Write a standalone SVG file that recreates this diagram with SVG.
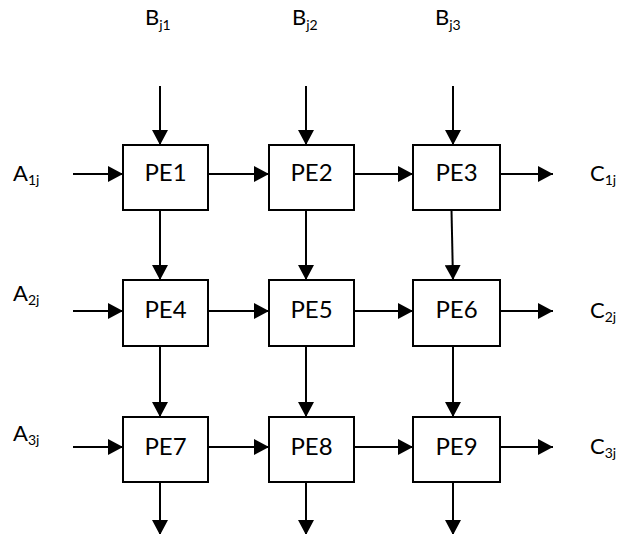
<svg xmlns="http://www.w3.org/2000/svg" width="623" height="534" viewBox="0 0 623 534">
<style>
.box{fill:#fff;stroke:#000;stroke-width:2}
.lbl{font-family:Lato,"Liberation Sans",sans-serif;font-size:24px;fill:#000;text-anchor:middle}
.io{font-family:Lato,"Liberation Sans",sans-serif;font-size:22px;fill:#000}
.sub{font-size:14px}
.c{stroke:#000;stroke-width:2;fill:none;marker-end:url(#ah)}
</style>
<defs>
<marker id="ah" markerUnits="userSpaceOnUse" markerWidth="16" markerHeight="16" refX="15" refY="8" orient="auto" viewBox="0 0 16 16">
<path d="M0,0 L15,8 L0,16 Z" fill="#000"/>
</marker>
</defs>
<g id="labels">
<text class="io" x="145" y="25">B<tspan class="sub" dy="5">j1</tspan></text>
<text class="io" x="292" y="25">B<tspan class="sub" dy="5">j2</tspan></text>
<text class="io" x="435" y="25">B<tspan class="sub" dy="5">j3</tspan></text>
<text class="io" x="13" y="181">A<tspan class="sub" dy="4">1j</tspan></text>
<text class="io" x="13" y="301">A<tspan class="sub" dy="4">2j</tspan></text>
<text class="io" x="13" y="441">A<tspan class="sub" dy="4">3j</tspan></text>
<text class="io" x="590" y="181">C<tspan class="sub" dy="4">1j</tspan></text>
<text class="io" x="590" y="318">C<tspan class="sub" dy="4">2j</tspan></text>
<text class="io" x="590" y="454">C<tspan class="sub" dy="4">3j</tspan></text>
</g>
<g id="connectors">
<line class="c" x1="160" y1="86" x2="160" y2="145"/>
<line class="c" x1="306" y1="86" x2="306" y2="145"/>
<line class="c" x1="453" y1="86" x2="453" y2="145"/>
<line class="c" x1="73" y1="174" x2="123" y2="174"/>
<line class="c" x1="208" y1="174" x2="269" y2="174"/>
<line class="c" x1="354" y1="174" x2="413" y2="174"/>
<line class="c" x1="500" y1="174" x2="553" y2="174"/>
<line class="c" x1="160" y1="210" x2="160" y2="280"/>
<line class="c" x1="306" y1="210" x2="306" y2="280"/>
<line class="c" x1="451.5" y1="210" x2="453" y2="280"/>
<line class="c" x1="73" y1="311" x2="123" y2="311"/>
<line class="c" x1="208" y1="311" x2="269" y2="311"/>
<line class="c" x1="354" y1="311" x2="413" y2="311"/>
<line class="c" x1="500" y1="311" x2="553" y2="311"/>
<line class="c" x1="160" y1="346" x2="160" y2="417"/>
<line class="c" x1="306" y1="346" x2="306" y2="417"/>
<line class="c" x1="453" y1="346" x2="453" y2="417"/>
<line class="c" x1="73" y1="447" x2="123" y2="447"/>
<line class="c" x1="208" y1="447" x2="269" y2="447"/>
<line class="c" x1="354" y1="447" x2="413" y2="447"/>
<line class="c" x1="500" y1="447" x2="553" y2="447"/>
<line class="c" x1="160" y1="482" x2="160" y2="535"/>
<line class="c" x1="306" y1="482" x2="306" y2="535"/>
<line class="c" x1="453" y1="482" x2="453" y2="535"/>
</g>
<g id="PE1"><rect class="box" x="123" y="145" width="85" height="65"/><text class="lbl" x="165.5" y="181">PE1</text></g>
<g id="PE2"><rect class="box" x="269" y="145" width="85" height="65"/><text class="lbl" x="311.5" y="181">PE2</text></g>
<g id="PE3"><rect class="box" x="413" y="145" width="87" height="65"/><text class="lbl" x="456.5" y="181">PE3</text></g>
<g id="PE4"><rect class="box" x="123" y="280" width="85" height="66"/><text class="lbl" x="165.5" y="318">PE4</text></g>
<g id="PE5"><rect class="box" x="269" y="280" width="85" height="66"/><text class="lbl" x="311.5" y="318">PE5</text></g>
<g id="PE6"><rect class="box" x="413" y="280" width="87" height="66"/><text class="lbl" x="456.5" y="318">PE6</text></g>
<g id="PE7"><rect class="box" x="123" y="417" width="85" height="65"/><text class="lbl" x="165.5" y="455">PE7</text></g>
<g id="PE8"><rect class="box" x="269" y="417" width="85" height="65"/><text class="lbl" x="311.5" y="455">PE8</text></g>
<g id="PE9"><rect class="box" x="413" y="417" width="87" height="65"/><text class="lbl" x="456.5" y="455">PE9</text></g>
</svg>
